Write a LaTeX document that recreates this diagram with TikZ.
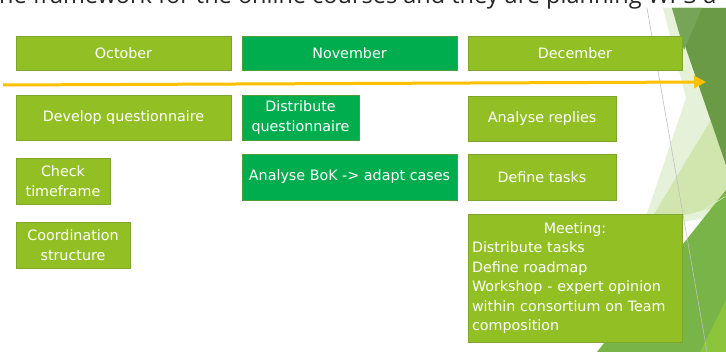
\documentclass[tikz,border=0pt]{standalone}
\usepackage{fontspec}
\setmainfont{DejaVu Sans}
\newfontfamily\titlefont{Open Sans}
\usetikzlibrary{arrows.meta,decorations.pathmorphing}
\definecolor{lgreen}{HTML}{92C024}
\definecolor{lborder}{HTML}{7FA52E}
\definecolor{dgreen}{HTML}{00AD4E}
\definecolor{dborder}{HTML}{4E9E3A}
\definecolor{orangeline}{HTML}{FFC000}
\definecolor{paleA}{HTML}{E6F1DA}
\definecolor{paleB}{HTML}{D0E6AE}
\definecolor{darkC}{HTML}{6A9A45}
\definecolor{darkC2}{HTML}{76A557}
\definecolor{greenD}{HTML}{78B447}
\definecolor{brightE}{HTML}{8CC43C}
\definecolor{titlegray}{HTML}{262626}
\newcommand{\boxfont}{\fontsize{14.3}{19.5}\selectfont}
\newlength{\bokfull}
\newlength{\bokpre}
\newlength{\bokword}
\tikzset{
  boxbase/.style={rectangle, inner sep=2pt, font=\boxfont, text=white, line width=0.8pt},
  lbox/.style={boxbase, fill=lgreen, draw=lborder},
  dbox/.style={boxbase, fill=dgreen, draw=dborder},
}
\begin{document}
\begin{tikzpicture}[x=1pt,y=-1pt]
\settowidth{\bokfull}{\boxfont Analyse BoK -> adapt cases}
\settowidth{\bokpre}{\boxfont Analyse }
\settowidth{\bokword}{\boxfont BoK}
\useasboundingbox (0,0) rectangle (726,352);
\clip (0,0) rectangle (726,352);
\fill[white] (0,0) rectangle (726,352);
% background design
\fill[paleA] (663,8) -- (726,8) -- (726,215) -- (642,228) -- (686,98) -- cycle;
\fill[paleB] (726,95) -- (726,205) -- (648,224) -- cycle;
\fill[darkC] (672,8) -- (726,8) -- (726,165) -- cycle;
\fill[darkC2] (672,8) -- (702,8) -- (684,50) -- cycle;
\fill[greenD] (726,190) -- (726,352) -- (597,352) -- cycle;
\fill[brightE] (726,300) -- (726,352) -- (700,352) -- cycle;
\draw[gray!50, line width=0.6pt] (647,8) -- (707,352);
\draw[white!80!greenD, line width=0.5pt] (680,225) -- (726,196);
% title remnant
\node[anchor=base west, inner sep=0pt, font=\titlefont\fontsize{23.5}{28}\selectfont, text=titlegray] (title) at (-1,4) {he framework for the online courses and they are planning WP3 a};
% month boxes
\node[lbox, minimum width=215pt, minimum height=34pt] (oct) at (123.5,53) {October};
\node[dbox, minimum width=215pt, minimum height=34pt] (nov) at (349.5,53) {November};
\node[lbox, minimum width=214pt, minimum height=34pt] (dec) at (575,53) {December};
% timeline arrow
\coordinate (tstart) at (3,85);
\coordinate (tend) at (706,82);
\draw[orangeline, line width=3pt, -{Triangle[length=12pt,width=12pt]}] (tstart) -- (tend);
% task boxes
\node[lbox, minimum width=215pt, minimum height=45pt] (dev) at (123.5,117.5) {Develop questionnaire};
\node[dbox, minimum width=117pt, minimum height=45pt, align=center] (dist) at (300.5,117.5) {Distribute\\questionnaire};
\node[lbox, minimum width=148pt, minimum height=45pt] (repl) at (542,118.5) {Analyse replies};
\node[lbox, minimum width=94pt, minimum height=46pt, align=center] (check) at (63,181) {Check\\timeframe};
\node[dbox, minimum width=215pt, minimum height=46pt] (bok) at (349.5,177) {Analyse BoK -> adapt cases};
\draw[red!85!black, line width=0.5pt, decorate, decoration={snake, amplitude=0.7pt, segment length=2.5pt}]
  ([xshift=-0.5\bokfull+\bokpre, yshift=-3pt]bok.base) -- ([xshift=-0.5\bokfull+\bokpre+\bokword, yshift=-3pt]bok.base);
\node[lbox, minimum width=148pt, minimum height=46pt] (tasks) at (542,177) {Define tasks};
\node[lbox, minimum width=114pt, minimum height=46pt, align=center] (coord) at (73,245) {Coordination\\structure};
\node[lbox, minimum width=214pt, minimum height=128pt, text width=206pt, align=left, inner sep=3pt] (meet) at (575,278) {\makebox[206pt]{Meeting:}\\Distribute tasks\\Define roadmap\\Workshop - expert opinion\\within consortium on Team\\composition};
\end{tikzpicture}
\end{document}
